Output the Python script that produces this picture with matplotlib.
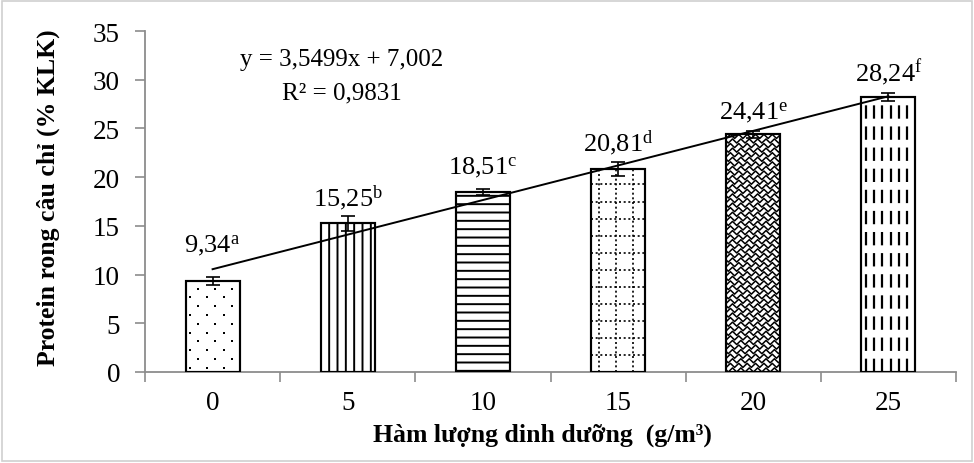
import matplotlib
matplotlib.use("Agg")
import matplotlib.pyplot as plt
import numpy as np
from matplotlib.patches import Rectangle

plt.rcParams['font.family'] = ['Liberation Serif', 'DejaVu Serif']
plt.rcParams['mathtext.fontset'] = 'custom'
plt.rcParams['mathtext.rm'] = 'Liberation Serif'
plt.rcParams['mathtext.it'] = 'Liberation Serif:italic'
plt.rcParams['mathtext.bf'] = 'Liberation Serif:bold'
plt.rcParams['hatch.linewidth'] = 1.4

categories = ['0', '5', '10', '15', '20', '25']
values = [9.34, 15.25, 18.51, 20.81, 24.41, 28.24]
errors = [0.37, 0.75, 0.30, 0.70, 0.35, 0.40]
letters = ['a', 'b', 'c', 'd', 'e', 'f']
label_texts = ['9,34', '15,25', '18,51', '20,81', '24,41', '28,24']
slope, intercept = 3.5499, 7.002
eq_text = 'y = 3,5499x + 7,002'
r2_text = 'R² = 0,9831'
y_ticks = [0, 5, 10, 15, 20, 25, 30, 35]

fig = plt.figure(figsize=(9.74, 4.64), dpi=100)
ax = fig.add_axes([145/974, 1 - 373/464, 811/974, 341/464])

x = np.arange(len(categories)) + 0.5
width = 0.4
hatches = [None, '||', '--', None, None, None]
bars = ax.bar(x, values, width=width, color='white', edgecolor='black',
              linewidth=1.5, zorder=2)
for b, h in zip(bars, hatches):
    if h:
        b.set_hatch(h)


def pattern_lines(bar, xstep, ystep, ls, lw):
    x0, w, h = bar.get_x(), bar.get_width(), bar.get_height()
    if xstep:
        for xx in np.arange(x0 + xstep / 2, x0 + w, xstep):
            ln, = ax.plot([xx, xx], [0, h], color='black', ls=ls, lw=lw, zorder=2.5)
            ln.set_clip_path(bar)
    if ystep:
        for yy in np.arange(ystep, h, ystep):
            ln, = ax.plot([x0, x0 + w], [yy, yy], color='black', ls=ls, lw=lw, zorder=2.5)
            ln.set_clip_path(bar)


def pattern_dots(bar, xstep, ystep):
    x0, w, h = bar.get_x(), bar.get_width(), bar.get_height()
    for i, yy in enumerate(np.arange(ystep / 2, h, ystep)):
        start = x0 + (xstep / 4 if i % 2 == 0 else 3 * xstep / 4)
        xs = np.arange(start, x0 + w, xstep)
        ln, = ax.plot(xs, np.full_like(xs, yy), ls='none', marker='s', ms=1.6,
                      mfc='black', mec='black', mew=0, zorder=2.5)
        ln.set_clip_path(bar)


def pattern_zigzag(bar, period, ystep, amp, lw):
    x0, w, h = bar.get_x(), bar.get_width(), bar.get_height()
    xs = np.arange(x0 - period, x0 + w + period, period / 2)
    zz = (np.arange(len(xs)) % 2) * amp
    for i, yy in enumerate(np.arange(-ystep, h + ystep, ystep)):
        shift = 0 if i % 2 == 0 else period / 4
        ln, = ax.plot(xs + shift, yy + zz, color='black', lw=lw, zorder=2.5)
        ln.set_clip_path(bar)


pattern_dots(bars[0], 0.1257, 0.9)
pattern_lines(bars[3], 0.1235, 1.75, (0, (1.2, 1.6)), 1.2)
pattern_zigzag(bars[4], 0.062, 0.47, 0.42, 1.1)
pattern_lines(bars[5], 0.0616, None, (0, (6, 3.5)), 1.6)
for b in bars:
    ax.add_patch(Rectangle((b.get_x(), 0), b.get_width(), b.get_height(),
                           fill=False, edgecolor='black', lw=1.5, zorder=3))

ax.errorbar(x, values, yerr=errors, fmt='none', ecolor='black', elinewidth=1.2,
            capsize=5, capthick=1.2, zorder=4)

# trendline
xt = np.array([1, len(categories)])
ax.plot(xt - 0.5, slope * xt + intercept, color='black', lw=1.4, zorder=5)

label_off = [18.7, 8, 11.5, 8.4, 9, 9.4]
for xi, v, e, t, l, off in zip(x, values, errors, label_texts, letters, label_off):
    ax.annotate(t + r'$^{\mathrm{' + l + '}}$', (xi, v + e), xytext=(0, off),
                textcoords='offset points', ha='center', va='baseline', fontsize=19)

ax.text(1.457, 31.55, eq_text, ha='center', va='baseline', fontsize=18)
ax.text(1.457, 28.1, r2_text, ha='center', va='baseline', fontsize=18)

ax.set_xlim(0, len(categories))
ax.set_ylim(0, 35)
ax.set_yticks(y_ticks)
ax.set_xticks(x)
ax.set_xticklabels(categories)
ax.set_xticks(np.arange(len(categories) + 1), minor=True)
ax.tick_params(axis='x', which='major', length=0, pad=13, labelsize=19.5)
ax.tick_params(axis='x', which='minor', length=7, color='#8c8c8c', width=1.2)
ax.tick_params(axis='y', length=7, color='#8c8c8c', width=1.2, pad=11, labelsize=19.5)
for s in ['top', 'right']:
    ax.spines[s].set_visible(False)
for s in ['left', 'bottom']:
    ax.spines[s].set_color('#8c8c8c')
    ax.spines[s].set_linewidth(1.3)

ax.set_xlabel('Hàm lượng dinh dưỡng  (g/m³)', fontsize=18.5, fontweight='bold')
ax.set_ylabel('Protein rong câu chỉ (% KLK)', fontsize=18.5, fontweight='bold')
ax.xaxis.set_label_coords(0.4895, -0.147)
ax.yaxis.set_label_coords(-0.105, 0.515)

fig.add_artist(Rectangle((2/974, 2/464), 970/974, 460/464, transform=fig.transFigure,
                         fill=False, edgecolor='#d0d0d0', lw=1.2))

fig.savefig('out.png', dpi=100)
